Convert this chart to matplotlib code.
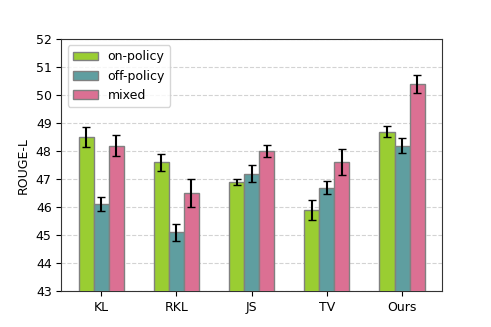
import numpy as np
import matplotlib.pyplot as plt

methods = ['KL', 'RKL', 'JS', 'TV', 'Ours']
on_policy = [48.5, 47.6, 46.9, 45.9, 48.7]
off_policy = [46.1, 45.1, 47.2, 46.7, 48.2]
mixed = [48.2, 46.5, 48.0, 47.6, 50.4]
on_err = [0.35, 0.3, 0.1, 0.37, 0.2]
off_err = [0.25, 0.3, 0.3, 0.24, 0.28]
mixed_err = [0.37, 0.5, 0.22, 0.46, 0.33]

fig, ax = plt.subplots(figsize=(4.91, 3.27), dpi=100)
x = np.arange(len(methods))
w = 0.2
ax.bar(x - w, on_policy, w, yerr=on_err, capsize=3, color='#9acd32',
       edgecolor='gray', label='on-policy', zorder=3)
ax.bar(x, off_policy, w, yerr=off_err, capsize=3, color='#5f9ea0',
       edgecolor='gray', label='off-policy', zorder=3)
ax.bar(x + w, mixed, w, yerr=mixed_err, capsize=3, color='#db7093',
       edgecolor='gray', label='mixed', zorder=3)

ax.set_ylim(43, 52)
ax.set_xticks(x)
ax.set_xticklabels(methods, fontsize=9)
ax.tick_params(axis='y', labelsize=9)
ax.set_ylabel('ROUGE-L', fontsize=9)
ax.yaxis.grid(True, linestyle='--', color='lightgray', zorder=0)
for s in ax.spines.values():
    s.set_color('#333333')
ax.legend(loc='upper left', fontsize=9)
fig.savefig('out.png')
